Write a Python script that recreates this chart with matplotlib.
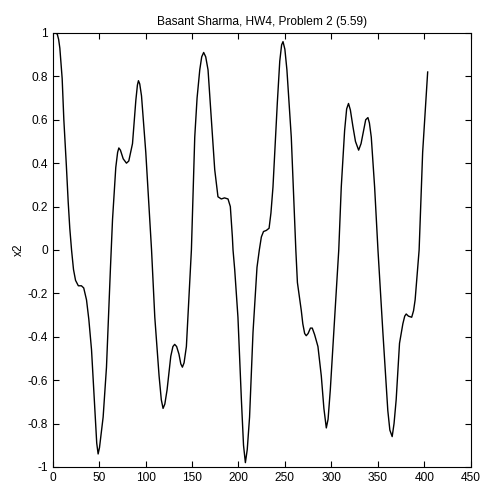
import matplotlib
matplotlib.use("Agg")
import matplotlib.pyplot as plt

plt.rcParams['font.family'] = ['Liberation Sans', 'DejaVu Sans']

title = "Basant Sharma, HW4, Problem 2 (5.59)"
ylabel = "x2"
xticks = [0, 50, 100, 150, 200, 250, 300, 350, 400, 450]
yticks = [-1, -0.8, -0.6, -0.4, -0.2, 0, 0.2, 0.4, 0.6, 0.8, 1]
ytick_labels = ["-1", "-0.8", "-0.6", "-0.4", "-0.2", "0", "0.2", "0.4", "0.6", "0.8", "1"]

t = [0, 3, 5, 6.5, 7.8, 10.3, 12.1, 14.8, 16.8, 18.5, 20.4, 22.5, 24.7, 27.7, 31, 33.5,
     36.5, 39, 41.9,
     45.5, 47.5, 49, 50.5, 52.5, 54.4, 58, 62.3, 64.5, 68, 70, 71.3, 73, 76, 79.5, 82,
     86, 89.6, 91.3, 92.4, 93.8, 95.7, 100.3, 104.6, 106.5, 110, 114.6, 117, 118.9,
     120.8, 123.2, 127.2, 129.5, 131.4, 133.5, 136, 138, 139.7, 141.5, 144, 147.6,
     149.4, 153, 155.5, 158.4, 160.5, 162.6, 164.8, 167.3, 170.9, 174.5, 178, 181.6,
     185, 188.8, 191.3, 193.5, 194.2, 196, 199.5, 203.2, 205.5, 207.5, 209.5, 212,
     215.7, 220, 222.5, 224.7, 227, 230, 233, 235, 237.2, 241.9, 244.5, 246.5, 248,
     250, 252.2, 256.9, 261.8, 263.5, 267.7, 269.3, 271.3, 273, 275, 277.5, 279.5,
     282, 285.6, 289.2, 292, 294.6, 296.5, 298.9, 303.6, 308, 310.7, 314.3, 316.5,
     318.5, 320.5, 323.2, 326, 329.4, 332, 334.7, 337, 339.4, 341, 343, 346.6, 350.2,
     355.5, 360.8, 363, 365.5, 367.5, 369.8, 373.4, 377, 379, 380.6, 383, 386.5,
     388.5, 390.2, 394.5, 398.3, 403.7]
x2 = [1.0, 1.0, 0.995, 0.97, 0.93, 0.79, 0.60, 0.39, 0.22, 0.10, 0.0, -0.09, -0.14,
      -0.165, -0.165, -0.175, -0.23, -0.32, -0.46, -0.74, -0.89, -0.94, -0.91, -0.84,
      -0.77, -0.54,
      -0.08, 0.14, 0.38, 0.45, 0.47, 0.46, 0.42, 0.40, 0.41, 0.49, 0.69, 0.76, 0.78,
      0.765, 0.71, 0.45, 0.14, 0.0, -0.31, -0.58, -0.69, -0.73, -0.71, -0.645, -0.49,
      -0.445, -0.435, -0.445, -0.48, -0.525, -0.54, -0.52, -0.445, -0.15, 0.0, 0.52,
      0.70, 0.83, 0.89, 0.91, 0.89, 0.83, 0.60, 0.37, 0.245, 0.235, 0.24, 0.235, 0.20,
      0.06, 0.0, -0.09, -0.31, -0.69, -0.90, -0.98, -0.92, -0.77, -0.38, -0.08, 0.0,
      0.06, 0.085, 0.09, 0.10, 0.17, 0.29, 0.68, 0.87, 0.945, 0.96, 0.925, 0.83, 0.52,
      0.0, -0.15, -0.28, -0.34, -0.385, -0.395, -0.385, -0.36, -0.36, -0.39, -0.445,
      -0.58, -0.73, -0.82, -0.78, -0.645, -0.31, 0.0, 0.29, 0.55, 0.65, 0.675, 0.645,
      0.57, 0.50, 0.46, 0.49, 0.55, 0.60, 0.61, 0.585, 0.52, 0.29, 0.0, -0.38, -0.74,
      -0.83, -0.86, -0.80, -0.69, -0.43, -0.34, -0.305, -0.295, -0.305, -0.31, -0.28,
      -0.23, 0.0, 0.45, 0.82]

fig = plt.figure(figsize=(4.87, 4.91), dpi=100)
ax = fig.add_axes([0.108, 0.0489, 0.8585, 0.884])
ax.plot(t, x2, color='black', lw=1.0)
ax.set_xlim(0, 450)
ax.set_ylim(-1, 1)
ax.set_xticks(xticks)
ax.set_yticks(yticks)
ax.set_yticklabels(ytick_labels)
ax.tick_params(direction='in', top=True, right=True, labelsize=8.6, length=4, width=0.8)
for s in ax.spines.values():
    s.set_linewidth(0.8)
ax.set_title(title, fontsize=8.6, pad=6)
ax.set_ylabel(ylabel, fontsize=8.6, labelpad=2)
fig.savefig("out.png", dpi=100)
